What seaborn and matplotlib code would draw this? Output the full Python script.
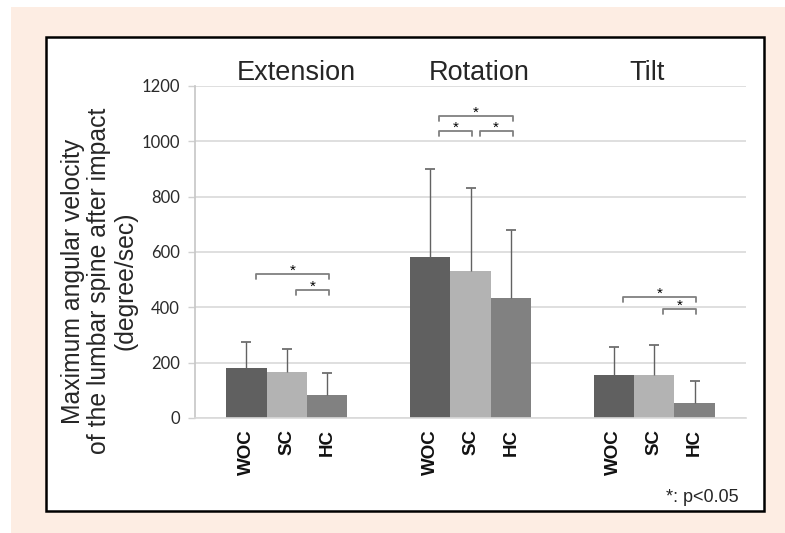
import numpy as np
import pandas as pd
import matplotlib
matplotlib.use("Agg")
import matplotlib.pyplot as plt
from matplotlib.patches import Rectangle
import seaborn as sns

# Data
motions = ["Extension", "Rotation", "Tilt"]
groups = ["WOC", "SC", "HC"]
mean_woc = [182, 583, 157]
mean_sc = [167, 531, 157]
mean_hc = [84, 432, 56]
sd_woc = [92, 317, 101]
sd_sc = [84, 300, 106]
sd_hc = [78, 247, 77]

# significance brackets: (motion index, group a, group b, bracket height)
sig_motion = [0, 0, 1, 1, 1, 2, 2]
sig_a = ["WOC", "SC", "WOC", "WOC", "SC", "WOC", "SC"]
sig_b = ["HC", "HC", "HC", "SC", "HC", "HC", "HC"]
sig_y = [522, 462, 1092, 1038, 1038, 439, 393]

colors = {"WOC": "#606060", "SC": "#b3b3b3", "HC": "#818181"}

sns.set_theme(style="white")
plt.rcParams["font.family"] = ["Liberation Sans", "DejaVu Sans"]

df = pd.DataFrame({
    "motion": motions * 3,
    "group": ["WOC"] * 3 + ["SC"] * 3 + ["HC"] * 3,
    "value": mean_woc + mean_sc + mean_hc,
    "sd": sd_woc + sd_sc + sd_hc,
})

fig = plt.figure(figsize=(7.85, 5.33), dpi=100, facecolor="white")

# beige backdrop and white framed panel
fig.add_artist(Rectangle((11 / 785, 0), 1 - 11 / 785, 1 - 7 / 533,
                         transform=fig.transFigure, facecolor="#fdede3",
                         edgecolor="none", zorder=-3))
fig.add_artist(Rectangle((46 / 785, 1 - 511 / 533), (764 - 46) / 785, (511 - 37) / 533,
                         transform=fig.transFigure, facecolor="white",
                         edgecolor="black", linewidth=1.8, zorder=-2))

ax = fig.add_axes([195 / 785, 1 - 418 / 533, (746 - 195) / 785, (418 - 86) / 533])
ax.patch.set_alpha(0)

sns.barplot(data=df, x="motion", y="value", hue="group", order=motions,
            hue_order=groups, palette=colors, width=0.66, gap=0,
            linewidth=0, legend=False, ax=ax, zorder=2)

# error bars (upper only) and bar centres
centers = {}
for g, cont in zip(groups, ax.containers):
    sub = df[df["group"] == g].set_index("motion").loc[motions]
    xs = [p.get_x() + p.get_width() / 2 for p in cont.patches]
    hs = [p.get_height() for p in cont.patches]
    centers[g] = xs
    eb = ax.errorbar(xs, hs, yerr=[np.zeros(len(xs)), sub["sd"].values], fmt="none",
                     ecolor="#626262", elinewidth=1, capsize=3.5, capthick=1.2, zorder=3)
    eb[1][0].set_visible(False)  # hide the cap sitting on the bar top

# significance brackets
leg = 18
for m, a, b, y in zip(sig_motion, sig_a, sig_b, sig_y):
    x0 = centers[a][m] + 0.05
    x1 = centers[b][m] + 0.01
    ax.plot([x0, x0, x1, x1], [y - leg, y, y, y - leg], color="#808080",
            lw=1.3, clip_on=False, zorder=4)
    ax.text((x0 + x1) / 2, y - 3, "*", ha="center", va="baseline",
            fontsize=11, color="black")

# motion titles above each group
title_x = [0.05, 1.05, 1.96]
for x, name in zip(title_x, motions):
    ax.text(x, 1222, name, ha="center", va="baseline", fontsize=19.5, clip_on=False)

ax.set_ylim(0, 1200)
ax.set_xlim(-0.5, 2.5)
ax.set_yticks(range(0, 1201, 200))
ax.yaxis.grid(True, color="#d9d9d9", lw=1.2)
ax.set_axisbelow(True)
for lbl in ax.get_yticklabels():
    lbl.set_fontfamily("Lato")
ax.tick_params(axis="y", labelsize=12, colors="#d0d0d0", labelcolor="#2a2a2a",
               length=5, width=1, left=True, pad=6)

xt = [x for m in range(3) for x in (centers["WOC"][m], centers["SC"][m], centers["HC"][m])]
ax.set_xticks(xt)
ax.set_xticklabels(groups * 3, rotation=90, fontsize=13.5, fontweight="bold")
ax.tick_params(axis="x", length=0, pad=8, labelcolor="#111111")
ax.set_xlabel("")
ax.set_ylabel("")

sns.despine(ax=ax)
ax.spines["left"].set_color("#c8c8c8")
ax.spines["bottom"].set_color("#d9d9d9")
ax.spines["bottom"].set_linewidth(1.2)

fig.text(99 / 785, 1 - 281 / 533,
         "Maximum angular velocity\nof the lumbar spine after impact\n(degree/sec)",
         rotation=90, ha="center", va="center", multialignment="center",
         fontsize=17.8, linespacing=1.12)
fig.text(739 / 785, 1 - 497 / 533, "*: p<0.05", ha="right", va="center", fontsize=13)

fig.savefig("out.png", dpi=100, facecolor="white")
